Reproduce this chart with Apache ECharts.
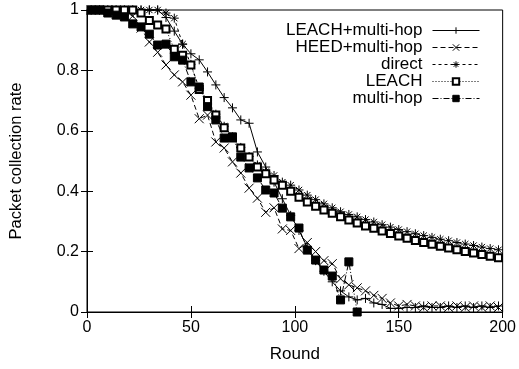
<!DOCTYPE html>
<html>
<head>
<meta charset="utf-8">
<script src="https://cdn.jsdelivr.net/npm/echarts@6/dist/echarts.min.js"></script>
<style>
html,body{margin:0;padding:0;background:#fff;}
#c{width:519px;height:369px;}
</style>
</head>
<body>
<div id="c"></div>
<script>
// Rounds at which each series was sampled
var rounds = [2,6,10,14,18,22,26,30,34,38,42,46,50,54,58,62,66,70,74,78,82,86,90,94,98,102,106,110,114,118,122,126,130,134,138,142,146,150,154,158,162,166,170,174,178,182,186,190,194,198];

var seriesNames = ["LEACH+multi-hop","HEED+multi-hop","direct","LEACH","multi-hop"];

var leachMultiHop = [1,1,1,1,1,1,1,1,1,0.975,0.93,0.887,0.855,0.835,0.795,0.752,0.71,0.676,0.636,0.625,0.53,0.48,0.43,0.375,0.32,0.27,0.215,0.17,0.135,0.1,0.07,0.05,0.04,0.045,0.03,0.025,0.012,0.012,0.015,0.015,0.02,0.015,0.015,0.02,0.015,0.02,0.015,0.02,0.015,0.02];

var heedMultiHop = [1,1,1,1,0.995,0.98,0.94,0.894,0.86,0.818,0.785,0.762,0.718,0.64,0.652,0.563,0.543,0.497,0.46,0.41,0.377,0.33,0.345,0.275,0.27,0.21,0.23,0.2,0.17,0.16,0.11,0.09,0.08,0.07,0.055,0.045,0.03,0.02,0.025,0.02,0.015,0.02,0.02,0.015,0.02,0.015,0.02,0.015,0.02,0.015];

var direct = [1,1,1,1,1,1,1,1,1,0.99,0.973,0.887,0.82,0.74,0.70,0.655,0.615,0.58,0.545,0.515,0.487,0.465,0.452,0.43,0.42,0.404,0.387,0.372,0.358,0.345,0.332,0.323,0.315,0.306,0.298,0.289,0.281,0.273,0.266,0.259,0.253,0.247,0.241,0.236,0.23,0.225,0.22,0.215,0.21,0.206];

var leach = [1,1,1,1,1,1,0.99,0.965,0.95,0.937,0.87,0.85,0.818,0.737,0.70,0.652,0.61,0.576,0.543,0.513,0.48,0.458,0.437,0.42,0.4,0.38,0.364,0.35,0.338,0.327,0.315,0.305,0.295,0.285,0.277,0.268,0.26,0.252,0.244,0.237,0.23,0.224,0.218,0.212,0.206,0.2,0.195,0.19,0.185,0.18];

var multiHop = [1,1,0.99,0.983,0.977,0.954,0.944,0.92,0.884,0.887,0.845,0.834,0.762,0.745,0.68,0.636,0.576,0.58,0.513,0.477,0.444,0.404,0.394,0.344,0.315,0.278,0.205,0.172,0.139,0.119,0.04,0.166,0];

var xTicks = [0,50,100,150,200];
var yTicks = [0,0.2,0.4,0.6,0.8,1];

function pairs(vals){ return vals.map(function(v,i){ return [rounds[i], v]; }); }

var FONT = "Liberation Sans, Arial, sans-serif";
var plusPath = "path://M0 5 L10 5 M5 0 L5 10";
var crossPath = "path://M1 1 L9 9 M9 1 L1 9";
var starPath = "path://M0 5 L10 5 M5 0 L5 10 M1.5 1.5 L8.5 8.5 M8.5 1.5 L1.5 8.5";

function mk(name, vals, symbol, size, lineType, fill){
  return {
    name: name, type: 'line', data: pairs(vals),
    symbol: symbol, symbolSize: size, showAllSymbol: true,
    animation: false, clip: false,
    lineStyle: {color: '#000', width: 1, type: lineType},
    itemStyle: {color: fill || '#000', borderColor: '#000', borderWidth: 1},
    emphasis: {disabled: true}
  };
}

var chart = echarts.init(document.getElementById('c'), null, {renderer: 'canvas'});
chart.setOption({
  backgroundColor: '#fff',
  animation: false,
  textStyle: {fontFamily: FONT},
  grid: {left: 86, right: 15, top: 10, bottom: 57, show: true, borderColor: '#000', borderWidth: 1, backgroundColor: 'transparent'},
  legend: {
    right: 39, top: 22, orient: 'vertical', align: 'right', padding: 0,
    itemWidth: 47, itemHeight: 8, itemGap: 0,
    selectedMode: false,
    lineStyle: {width: 1},
    itemStyle: {borderWidth: 1},
    textStyle: {fontFamily: FONT, fontSize: 17, color: '#000', padding: [0, 5, 0, 0]},
    data: seriesNames
  },
  xAxis: [{
    type: 'value', min: xTicks[0], max: xTicks[xTicks.length-1], interval: 50,
    name: 'Round', nameLocation: 'middle', nameGap: 34,
    nameTextStyle: {fontFamily: FONT, fontSize: 17, color: '#000'},
    axisLine: {show: true, lineStyle: {color: '#000', width: 1}},
    axisTick: {show: true, inside: true, length: 6, lineStyle: {color: '#000'}},
    axisLabel: {color: '#000', fontSize: 16, fontFamily: FONT, margin: 8},
    splitLine: {show: false}
  },{
    type: 'value', position: 'top', min: xTicks[0], max: xTicks[xTicks.length-1], interval: 50,
    axisLine: {show: true, lineStyle: {color: '#000', width: 1}},
    axisTick: {show: true, inside: true, length: 6, lineStyle: {color: '#000'}},
    axisLabel: {show: false}, splitLine: {show: false}
  }],
  yAxis: [{
    type: 'value', min: yTicks[0], max: yTicks[yTicks.length-1], interval: 0.2,
    name: 'Packet collection rate', nameLocation: 'middle', nameGap: 62,
    nameTextStyle: {fontFamily: FONT, fontSize: 16.5, color: '#000'},
    axisLine: {show: true, lineStyle: {color: '#000', width: 1}},
    axisTick: {show: true, inside: true, length: 6, lineStyle: {color: '#000'}},
    axisLabel: {color: '#000', fontSize: 16, fontFamily: FONT, margin: 8},
    splitLine: {show: false}
  },{
    type: 'value', position: 'right', min: yTicks[0], max: yTicks[yTicks.length-1], interval: 0.2,
    axisLine: {show: true, lineStyle: {color: '#000', width: 1}},
    axisTick: {show: true, inside: true, length: 6, lineStyle: {color: '#000'}},
    axisLabel: {show: false}, splitLine: {show: false}
  }],
  series: [
    mk(seriesNames[0], leachMultiHop, plusPath, 9, 'solid'),
    mk(seriesNames[1], heedMultiHop, crossPath, 9, [5,3]),
    mk(seriesNames[2], direct, starPath, 9, [3,3]),
    mk(seriesNames[3], leach, 'emptyRect', 7, [1,2], '#000'),
    mk(seriesNames[4], multiHop, 'rect', 8, [6,2,1,2])
  ]
});
</script>
</body>
</html>
